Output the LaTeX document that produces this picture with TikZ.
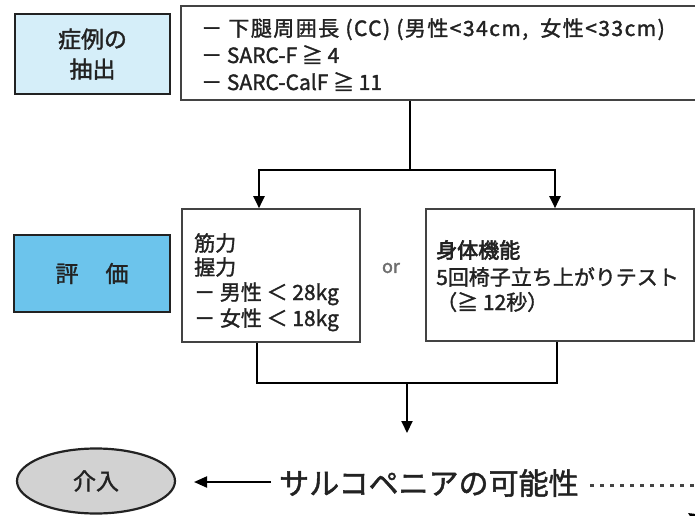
\documentclass[tikz,border=0pt]{standalone}
\usepackage{fontspec}
\setmainfont{Noto Sans CJK JP}[FakeBold=1.5]
\usetikzlibrary{arrows.meta,shapes.geometric}
\definecolor{lightblue}{HTML}{D5EEF9}
\definecolor{midblue}{HTML}{6CC4EC}
\definecolor{ink}{HTML}{222222}
\definecolor{ovalgray}{HTML}{D2D2D2}
\tikzset{
  labelbox/.style={draw=ink, line width=2.8bp, inner sep=0pt, align=center, text=ink, font=\fontsize{23bp}{30bp}\selectfont},
  plainbox/.style={draw=ink!85, line width=1.6bp, fill=white, inner sep=0pt},
  linetext/.style={anchor=base west, inner sep=0pt, text=ink, font=\fontsize{21bp}{25bp}\selectfont},
  conn/.style={draw=black, line width=2bp},
  arr/.style={conn, -{Triangle[length=12bp,width=11bp]}},
}
\begin{document}
\begin{tikzpicture}[x=1bp,y=-1bp]
\useasboundingbox (0,0) rectangle (695,516);
\clip (0,0) rectangle (695,516);
\fill[white] (0,0) rectangle (695,516);

% label boxes
\node[labelbox, fill=lightblue, minimum width=155bp, minimum height=80bp] (case) at (92.5,54) {症例の\\抽出};
\node[labelbox, fill=midblue, minimum width=156bp, minimum height=77bp] (eval) at (92,273.5) {評\hspace{27bp}価};

% criteria box
\node[plainbox, minimum width=520bp, minimum height=94bp] (crit) at (441,53) {};
\node[linetext] (c1) at (201,36) {\addfontfeatures{LetterSpace=7}－ 下腿周囲長 (CC) (男性<34cm,\hspace{6bp} 女性<33cm)};
\node[linetext] (c2) at (201,63) {－ SARC-F ≧ 4};
\node[linetext] (c3) at (201,90) {－ SARC-CalF ≧ 11};

% evaluation boxes
\node[plainbox, minimum width=178bp, minimum height=133bp] (grip) at (271,275.5) {};
\node[linetext] (g1) at (194,251) {筋力};
\node[linetext] (g2) at (194,275) {握力};
\node[linetext] (g3) at (194,300) {－ 男性 ＜ 28kg};
\node[linetext] (g4) at (194,326) {－ 女性 ＜ 18kg};
\node[plainbox, minimum width=268bp, minimum height=132bp] (phys) at (560,275) {};
\node[linetext] (p1) at (436,258) {\addfontfeatures{FakeBold=3}身体機能};
\node[linetext] (p2) at (436,285) {5回椅子立ち上がりテスト};
\node[linetext] (p3) at (436,310) {（≧ 12秒）};
\node[text=ink!65, inner sep=0pt, font=\fontsize{18bp}{18bp}\selectfont] (or) at (391,268) {or};

% connectors
\coordinate (split) at (410,170);
\coordinate (joinL) at (257,383);
\coordinate (joinR) at (557,383);
\coordinate (joinM) at (407,383);
\draw[conn] (crit.south -| split) -- (split);
\draw[arr] (split) -| (grip.north -| 259,0);
\draw[arr] (split) -| (phys.north -| 555,0);
\draw[conn] (grip.south -| joinL) -- (joinL) -- (joinR) -- (phys.south -| joinR);
\coordinate (downtip) at (407,433);
\draw[arr] (joinM) -- (downtip);

% bottom row
\node[ellipse, draw=ink, line width=2.2bp, fill=ovalgray, minimum width=158bp, minimum height=65bp, inner sep=0pt, text=ink, font=\fontsize{23bp}{23bp}\selectfont] (act) at (96,481) {介入};
\node[text=ink, inner sep=0pt, anchor=west, font=\fontsize{30bp}{30bp}\selectfont] (poss) at (279,483) {サルコペニアの可能性};
\coordinate (possarr) at (271,482);
\coordinate (acttip) at (194,482);
\draw[conn, -{Triangle[length=13bp,width=11bp]}] (possarr) -- (acttip);
\coordinate (dotA) at (590,485);
\coordinate (dotB) at (700,485);
\draw[line width=3bp, dash pattern=on 3.5bp off 6.5bp, draw=ink!85] (dotA) -- (dotB);
\coordinate (cutA) at (730,540);
\coordinate (cutB) at (688,513);
\draw[conn, -{Triangle[length=12bp,width=11bp]}] (cutA) -- (cutB);
\end{tikzpicture}
\end{document}
